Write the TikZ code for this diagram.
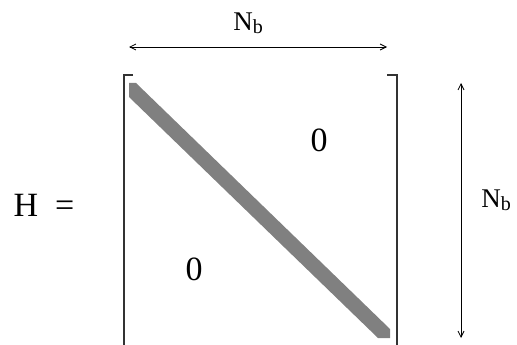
\documentclass[tikz,border=0pt]{standalone}
\usepackage{fontspec}
\setmainfont{Liberation Serif}
\usetikzlibrary{arrows.meta,positioning,calc}
\newcommand{\subb}[1]{\raisebox{-3pt}{\fontsize{20}{24}\selectfont #1}}
\tikzset{
  meret/.style={{Straight Barb[length=6pt,width=6pt]}-{Straight Barb[length=6pt,width=6pt]},line width=0.8pt},
  zarojel/.style={line width=1.6pt,black!80},
  sav/.style={fill=black!50},
  nagy/.style={inner sep=0pt,font=\fontsize{34}{40}\selectfont},
  kis/.style={inner sep=0pt,font=\fontsize{27}{32}\selectfont},
}
\begin{document}
\begin{tikzpicture}[x=1pt,y=-1pt]
  \useasboundingbox (0,0) rectangle (517,345);
  % matrix brackets
  \coordinate (fb) at (124,75);
  \coordinate (ab) at (124,345);
  \coordinate (fj) at (397,75);
  \coordinate (aj) at (397,345);
  \draw[zarojel] ($(fb)+(9,0)$) -- (fb) -- (ab);
  \draw[zarojel] ($(fj)+(-10,0)$) -- (fj) -- (aj);
  % diagonal band
  \fill[sav] (129,83) -- (136,83) -- (390,329) -- (390,338) -- (378,338) -- (129,97) -- cycle;
  \node[nagy] (h) at (44,205) {H\hspace{0.5em}=};
  \node[nagy] (nulla1) at (319,140) {0};
  \node[nagy] (nulla2) at (194,269) {0};
  % size arrows
  \coordinate (vb) at (129,47);
  \coordinate (vj) at (387,47);
  \draw[meret] (vb) -- (vj);
  \node[kis] (nb1) at (248,23) {N\subb{b}};
  \coordinate (ff) at (461,83);
  \coordinate (fa) at (461,338);
  \draw[meret] (ff) -- (fa);
  \node[kis] (nb2) at (496,200) {N\subb{b}};
\end{tikzpicture}
\end{document}
